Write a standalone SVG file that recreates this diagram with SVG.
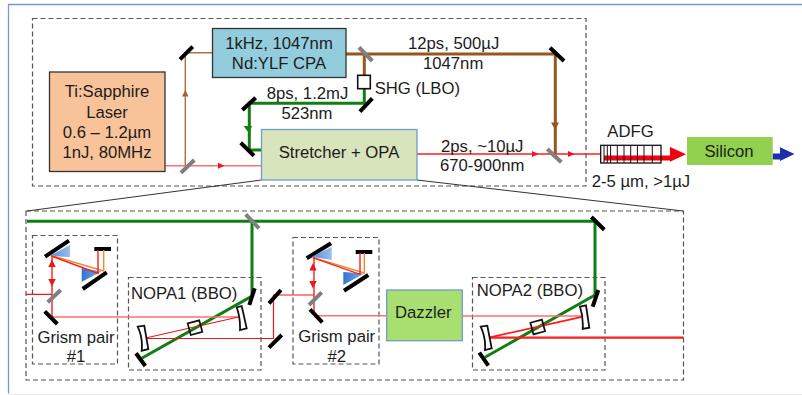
<svg xmlns="http://www.w3.org/2000/svg" width="802" height="395" viewBox="0 0 802 395">
<style>
text{font-family:"Liberation Sans",Arial,sans-serif;font-size:16.7px;fill:#1c1c1c}
.m{text-anchor:middle}
.box{stroke-width:1.300}
.dash{fill:none;stroke:#555;stroke-width:1.200;stroke-dasharray:5 3}
.mir{stroke:#000;stroke-width:4;fill:none}
.gm{stroke:#808080;stroke-width:4;fill:none}
.fr{stroke:#f0141c;stroke-width:1.200;fill:none}
.red{stroke:#ff1c1c;stroke-width:1.400;fill:none}
.pale{stroke:#ff6f6f;stroke-width:1.600;fill:none}
.org{stroke:#f08a30;stroke-width:1.400;fill:none}
.grn{stroke:#0f7f12;stroke-width:3;fill:none}
.brn{stroke:#96561e;stroke-width:3;fill:none}
.thin{stroke:#ad7040;stroke-width:1.400;fill:none}
.cm{fill:#fff;stroke:#111;stroke-width:1.800}
.xt{fill:none;stroke:#111;stroke-width:1.700}
.p1{fill:url(#pr1)}
.p2{fill:url(#pr2)}
</style>
<defs>
<linearGradient id="pr1" x1="0" y1="0" x2="1" y2="0"><stop offset="0" stop-color="#4f8cdc"/><stop offset="1" stop-color="#9cbfea"/></linearGradient>
<linearGradient id="pr2" x1="0" y1="0" x2="1" y2="0"><stop offset="0" stop-color="#3074d0"/><stop offset="1" stop-color="#7fabe4"/></linearGradient>
</defs>
<rect width="802" height="395" fill="#fff"/>
<path d="M802 4.500H8.500V393.500" fill="none" stroke="#6f9bd0" stroke-width="1.300"/>
<path d="M9 394.500H802" fill="none" stroke="#e6e6e6" stroke-width="1"/>
<g id="regions">
<rect class="dash" x="32.500" y="18.500" width="553.500" height="167.500"/>
<rect class="dash" x="26" y="211" width="657.500" height="169"/>
<rect class="dash" x="32.500" y="235.500" width="85" height="128.500"/>
<rect class="dash" x="128.500" y="277.500" width="132.500" height="92.500"/>
<rect class="dash" x="293" y="237.500" width="86" height="126.500"/>
<rect class="dash" x="472.500" y="277.500" width="132.500" height="92.500"/>
</g>
<g id="connectors">
<path d="M261.500 180L27 211M417 180L683 211" fill="none" stroke="#333" stroke-width="1"/>
<path class="thin" d="M212.500 52.700H185.300V165.700"/>
<path d="M185.300 90L182 96.500H188.600Z" fill="#a5622a"/>
<path class="pale" d="M165 165.700H261.500"/>
<path d="M218 162.700L224.500 165.700L218 168.700Z" fill="#f0141c"/>
<path class="brn" d="M346 54H555.300V154"/>
<path d="M551 122.500H559L555.300 130Z" fill="#96561e"/>
<path class="brn" d="M364.300 54V76"/>
<path class="grn" d="M364.300 88V103.300H249.300V150H261.500"/>
<path d="M243.500 126H252L249 133Z" fill="#0f7f12"/>
<path class="red" d="M417 154H601"/>
<path d="M532 151L538.500 154L532 157ZM568 151L574.500 154L568 157Z" fill="#f0141c"/>
<path d="M604 155.500H670V147L686 154.300L670 161.700V160.500H604Z" fill="#f4000c"/>
<path d="M772.700 153.500H780V147.300L794.500 154L780 161V159.500H772.700Z" fill="#1c2fa8"/>
<path class="grn" d="M27 221.300H595V294"/>
<path class="grn" d="M252 221.300V296L141.700 358.300"/>
<path class="grn" d="M595 295L485 357.300"/>
<path class="pale" d="M52 317H238.500"/>
<path class="fr" d="M26 294.300H52M238.500 317L143.500 338.500H273.500V295H314"/>
<path class="red" d="M52 255V317M314 257V316"/>
<path d="M52 259.500L48.300 267H55.700ZM52 286.500L48.300 279H55.700ZM313 263L309.300 270.500H316.700ZM313 288.500L309.300 281H316.700Z" fill="#f0141c"/>
<path class="pale" d="M314 315.700H387M462.300 316H583"/>
<path class="red" d="M583 316.700L488.500 337.700" style="stroke-width:1.800"/>
<path d="M488.500 337.700H683.500" fill="none" stroke="#ff1c1c" stroke-width="2.200"/>
</g>
<g id="optics">
<path class="mir" d="M180 59.300L192.700 46.700M359.900 111.700L372.300 98.300M242.300 110L255.700 97.700M240.700 142.700L254 155.700M550 47.700L564 61"/>
<path class="gm" d="M181 172.700L194.300 160M359 47.300L372.300 61M547.300 149L561.300 162.300M245.700 214.300L259 228.300M47.700 302.300L60.700 290M309 305L321.700 292.300"/>
<path class="mir" d="M254.700 288.300L249.300 305M136 353.300L145.300 366M591.300 217L604.300 229.700M598.300 290L592.700 306.700M479.300 352.700L488.300 365.700M44.700 311.300L57.300 324M269 303.300L281 290M269 347.700L281.700 335M310 309.300L322.300 322.300"/>
<path class="mir" d="M45 256.700L69 240.700M82.700 289L106.700 272.400M94.300 249H111M306.700 258.300L331 243.300M344 290.700L368.300 275M355.700 252H372.300"/>
<path class="p1" d="M50 255.700L70 245V257.300Z"/>
<path class="p2" d="M81.700 268V281.700L101.700 271.500Z"/>
<path class="p1" d="M311.700 256.700L331.700 247V260Z"/>
<path class="p2" d="M343.300 272V285L364 273.500Z"/>
<path class="org" d="M51.500 255.500L103.700 271V250M312.700 257.300L364.300 273V253"/>
<path class="red" d="M51.500 256L98 273.500V250M312.700 257.700L360 274.300V253"/>
<path class="cm" d="M137.700 326.700L144.300 325.700L148.300 349L141.700 350.700Q143 338 137.700 326.700ZM236.700 307.300L241.700 306L246.700 328.300L240 330Q240.500 318 236.700 307.300ZM480.700 326.700L487.300 325.700L491.700 348.300L485 350Q486 338 480.700 326.700ZM580 306.700L586 305.300L589.300 327.700L582.700 329Q583.500 317 580 306.700Z"/>
<rect class="xt" x="189" y="321.700" width="12" height="12" transform="rotate(-15 195 327.700)"/>
<rect class="xt" x="531.700" y="321" width="12" height="12" transform="rotate(-15 537.700 327)"/>
</g>
<g id="laser"><rect class="box" x="49.500" y="72" width="115.500" height="99.500" fill="#f9c39a" stroke="#333"/>
<text class="m" x="107" y="97.300">Ti:Sapphire</text><text class="m" x="107" y="118">Laser</text><text class="m" x="107" y="138">0.6 – 1.2µm</text><text class="m" x="107" y="157.500">1nJ, 80MHz</text></g>
<g id="cpa"><rect class="box" x="212.500" y="28.500" width="133.500" height="49" fill="#93cddd" stroke="#333"/>
<text class="m" x="279" y="49">1kHz, 1047nm</text><text class="m" x="279" y="68.500">Nd:YLF CPA</text></g>
<g id="stretcher"><rect class="box" x="261.500" y="129.500" width="155.500" height="50.500" fill="#d8e4bc" stroke="#6f9bd0"/>
<text class="m" x="339" y="158">Stretcher + OPA</text></g>
<g id="shg"><rect x="357.700" y="75.300" width="12.600" height="13.400" fill="none" stroke="#111" stroke-width="1.600"/>
<text x="374.700" y="94">SHG (LBO)</text></g>
<g id="adfg"><rect x="600.700" y="145.300" width="60.300" height="17.700" fill="none" stroke="#111" stroke-width="1.300"/>
<path d="M604 145.300V163M607.300 145.300V163M610.600 145.300V163M617.300 145.300V163M624 145.300V163M630.700 145.300V163M637.400 145.300V163M644 145.300V163M652.300 145.300V163" fill="none" stroke="#111" stroke-width="1"/>
<text x="607.300" y="136.700">ADFG</text><text x="591.700" y="186.700">2-5 µm, &gt;1µJ</text></g>
<g id="silicon"><rect x="687" y="137" width="85.700" height="28" fill="#92d050"/>
<text class="m" x="729" y="156.700">Silicon</text></g>
<g id="dazzler"><rect class="box" x="386.700" y="290" width="75.600" height="50.700" fill="#a9df6e" stroke="#6f9bd0"/>
<text x="395" y="317.700">Dazzler</text></g>
<g id="labels">
<text x="266.700" y="98.700">8ps, 1.2mJ</text><text class="m" x="307" y="119">523nm</text>
<text x="408" y="49">12ps, 500µJ</text><text x="423" y="69">1047nm</text>
<text x="441" y="152">2ps, ~10µJ</text><text x="440" y="170.700">670-900nm</text>
<text class="m" x="76" y="342.700">Grism pair</text><text class="m" x="76" y="362">#1</text>
<text class="m" x="336.700" y="342">Grism pair</text><text class="m" x="336.700" y="361.700">#2</text>
<text x="131" y="299.300">NOPA1 (BBO)</text><text x="476.700" y="295.700">NOPA2 (BBO)</text>
</g>
</svg>
